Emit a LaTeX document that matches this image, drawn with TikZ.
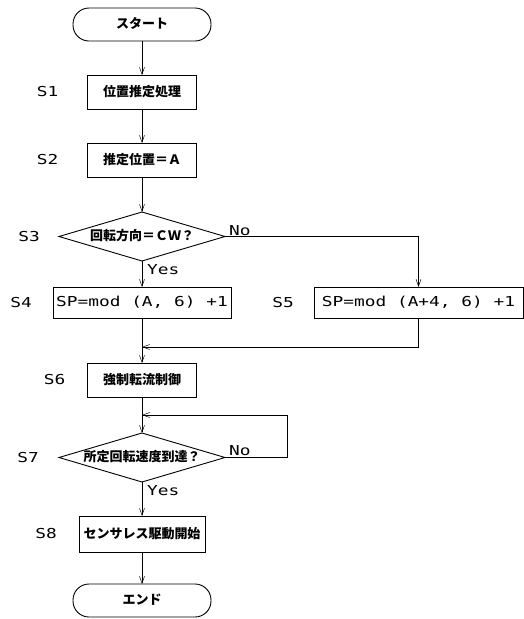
\documentclass[tikz,border=0pt]{standalone}
\usepackage{fontspec}
\setmainfont{Noto Sans CJK JP}
\newfontfamily\lat{DejaVu Sans Mono}[FakeStretch=1.3]
\usetikzlibrary{positioning,arrows.meta,shapes.geometric,calc}

\begin{document}
\begin{tikzpicture}[
    x=1pt, y=-1pt,
    node distance=34pt and 83pt,
    box/.style={rectangle, draw, line width=0.9pt, outer sep=0pt, minimum width=109pt, minimum height=34pt, inner sep=1pt, align=center, font=\fontsize{13}{13}\selectfont\bfseries, text height=10pt, text depth=2pt},
    term/.style={box, rounded corners=16pt, minimum width=138pt, minimum height=33pt},
    dec/.style={diamond, draw, line width=0.9pt, outer sep=0pt, aspect=3.4, minimum width=166pt, minimum height=49pt, inner sep=-2pt, font=\fontsize{13}{13}\selectfont\bfseries, text height=10pt, text depth=2pt},
    wide/.style={box, minimum height=31pt, font=\fontsize{13.7}{13.7}\selectfont\lat},
    arr/.style={-{Straight Barb[length=7pt, width=5pt]}, line width=0.5pt},
    lbl/.style={font=\fontsize{13.7}{13.7}\selectfont\lat, anchor=east, inner sep=0pt},
    yn/.style={font=\fontsize{13.7}{13.7}\selectfont\lat, inner sep=0pt}
]
\path[use as bounding box] (0,0) rectangle (523,619);

% Main column
\node[term] (start) at (142,24.5) {スタート};
\node[box, below=of start] (s1) {位置推定処理};
\node[box, below=of s1] (s2) {推定位置＝Ａ};
\node[dec, below=35pt of s2] (s3) {回転方向＝ＣＷ？};
\node[wide, below=26pt of s3, minimum width=178pt] (s4) {SP=mod (A, 6) +1};
\node[wide, right=83pt of s4, minimum width=209pt] (s5) {SP=mod (A+4, 6) +1};
\node[box, below=45pt of s4] (s6) {強制転流制御};
\node[dec, below=36pt of s6] (s7) {所定回転速度到達？};
\node[box, below=of s7, minimum width=126pt, minimum height=36pt] (s8) {センサレス駆動開始};
\node[term, below=32pt of s8] (end) {エンド};

% Joins
\coordinate[below=29pt of s4.south] (j1);
\coordinate[below=18pt of s6.south] (j2);

\draw[arr] (start) -- (s1);
\draw[arr] (s1) -- (s2);
\draw[arr] (s2) -- (s3);
\draw[arr] (s3) -- (s4);
\draw[arr] (s3.east) -| (s5.north);
\draw[arr] (s4) -- (s6);
\draw[arr] (s5.south) |- (j1);
\draw[arr] (s6) -- (s7);
\draw[arr] (s7.east) -- ++(62pt,0) |- (j2);
\draw[arr] (s7) -- (s8);
\draw[arr] (s8) -- (end);

% Branch labels
\node[yn, anchor=south west] (no3) at ($(s3.east)+(4pt,1pt)$) {No};
\node[yn, anchor=north west] (yes3) at ($(s3.south)+(5pt,-3pt)$) {Yes};
\node[yn, anchor=south west] (no7) at ($(s7.east)+(4pt,2pt)$) {No};
\node[yn, anchor=north west] (yes7) at ($(s7.south)+(5pt,-3pt)$) {Yes};

% Step labels
\node[lbl] (l1) at ($(s1.west)+(-29pt,0)$) {S1};
\node[lbl] (l2) at ($(s2.west)+(-29pt,0)$) {S2};
\node[lbl] (l3) at ($(s3.west)+(-19pt,0)$) {S3};
\node[lbl] (l4) at ($(s4.west)+(-21pt,0)$) {S4};
\node[lbl] (l5) at ($(s5.west)+(-20pt,0)$) {S5};
\node[lbl] (l6) at ($(s6.west)+(-22pt,0)$) {S6};
\node[lbl] (l7) at ($(s7.west)+(-20pt,0)$) {S7};
\node[lbl] (l8) at ($(s8.west)+(-22pt,0)$) {S8};

\end{tikzpicture}
\end{document}
